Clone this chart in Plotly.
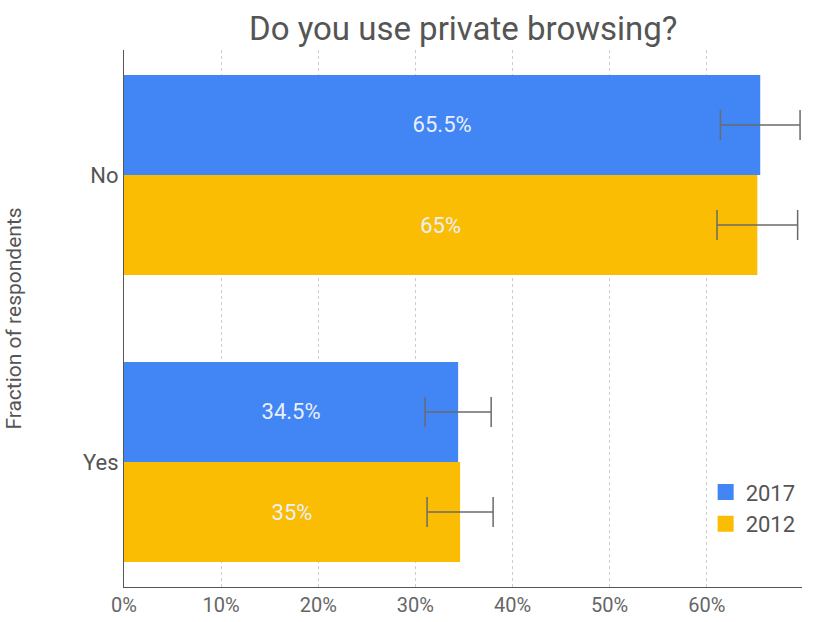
import plotly.graph_objects as go

categories = ["No", "Yes"]
years = ["2017", "2012"]
values_2017 = [65.5, 34.4]
values_2012 = [65.2, 34.6]
err_2017 = [4.1, 3.4]
err_2012 = [4.15, 3.4]
labels_2017 = ["65.5%", "34.5%"]
labels_2012 = ["65%", "35%"]
colors = ["#4285F4", "#FBBC04"]
x_ticks = [0, 10, 20, 30, 40, 50, 60]
x_ticklabels = ["0%", "10%", "20%", "30%", "40%", "50%", "60%"]

fig = go.Figure()
for name, vals, errs, labs, col in [
    (years[0], values_2017, err_2017, labels_2017, colors[0]),
    (years[1], values_2012, err_2012, labels_2012, colors[1]),
]:
    fig.add_trace(go.Bar(
        y=categories, x=vals, name=name, orientation="h",
        marker=dict(color=col, line=dict(width=0)),
        text=labs, textposition="inside", insidetextanchor="middle",
        textfont=dict(family="Roboto", size=22, color="#eaf0fb"),
        error_x=dict(type="data", array=errs, visible=True,
                     color="#6b6b6b", thickness=1.5, width=15),
        hoverinfo="x+y", showlegend=False,
    ))

# legend entries with larger square swatches
for name, col in zip(years, colors):
    fig.add_trace(go.Scatter(
        x=[None], y=[None], mode="markers", name=name,
        marker=dict(symbol="square", size=20, color=col, line=dict(width=0)),
        showlegend=True,
    ))

fig.update_layout(
    width=830, height=622,
    barmode="group", bargap=0.303, bargroupgap=0,
    paper_bgcolor="white", plot_bgcolor="white",
    margin=dict(l=124, r=28, t=50, b=35, autoexpand=False),
    font=dict(family="Roboto", color="#555555"),
    title=dict(text="Do you use private browsing?", x=0.5581, xanchor="center",
               y=0.955, yanchor="middle",
               font=dict(family="Roboto", size=33, color="#555555")),
    xaxis=dict(range=[0, 69.8], tickvals=x_ticks, ticktext=x_ticklabels,
               showgrid=True, gridcolor="#cccccc", griddash="dot", gridwidth=1,
               zeroline=False, showline=True, linecolor="#555555", linewidth=1,
               tickfont=dict(family="Roboto", size=20, color="#666666"),
               ticks="", ticklen=0, automargin=False),
    yaxis=dict(type="category", categoryorder="array", categoryarray=categories,
               range=[1.4355, -0.4355], showgrid=False, zeroline=False,
               showline=True, linecolor="#555555", linewidth=1,
               tickfont=dict(family="Roboto", size=22, color="#555555"),
               title=dict(text="Fraction of respondents",
                          font=dict(family="Roboto", size=21, color="#555555"),
                          standoff=55),
               ticks="", ticklen=0, automargin=False),
    legend=dict(x=0.998, xanchor="right", y=0.2155, yanchor="top",
                bgcolor="rgba(0,0,0,0)", traceorder="normal",
                font=dict(family="Roboto", size=22, color="#555555"),
                itemsizing="trace", tracegroupgap=0),
    showlegend=True,
)

fig.write_html("out.html", config={"displayModeBar": False},
               post_script="document.body.style.margin='0';")
